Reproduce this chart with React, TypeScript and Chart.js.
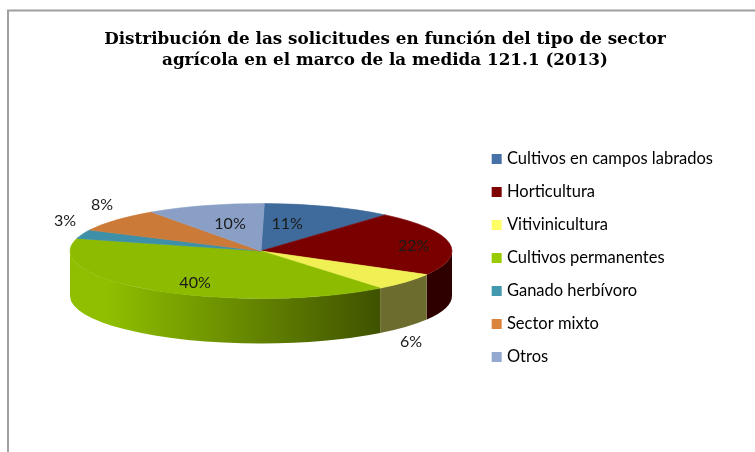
import React, { useEffect, useRef } from "react";
import { Chart, registerables } from "chart.js";

Chart.register(...registerables);

const categories = [
  "Cultivos en campos labrados",
  "Horticultura",
  "Vitivinicultura",
  "Cultivos permanentes",
  "Ganado herbívoro",
  "Sector mixto",
  "Otros",
];
const shares = [11, 22, 6, 40, 3, 8, 10];
const pieColors = ["#3F6A9C", "#7A0000", "#F0F055", "#8DBB00", "#3E8FA8", "#CB7A38", "#8A9FC6"];
const legendColors = ["#4672A8", "#7F0000", "#FFFF66", "#99CC00", "#4198AF", "#DB843D", "#93A9CF"];
const wallFrom = ["#2A4670", "#2E0000", "#6C6C2E", "#8FBF00", "#2A6070", "#8A5020", "#607090"];
const wallTo = ["#2A4670", "#2E0000", "#6C6C2E", "#3F5200", "#2A6070", "#8A5020", "#607090"];
const titleLines = [
  "Distribución de las solicitudes en función del tipo de sector",
  "agrícola en el marco de la medida 121.1 (2013)",
];
// Radial placement of each percentage label, as fractions of the ellipse radii.
const labelFx = [0.45, 0.83, 1.04, 0.615, 1.074, 1.06, 0.474];
const labelFy = [0.6, 0.56, 3.0, 0.8, 1.86, 1.52, 0.6];

const ROTATION_DEG = 1;
const TILT_CX = 261;
const LABEL_CX = 258;
const TILT_RY = 47.5;
const TILT_CY = 251;
const DEPTH = 45;

const tiltPlugin = {
  id: "tilt",
  beforeDraw(chart: any) {
    const { ctx, width, height } = chart;
    ctx.save();
    ctx.strokeStyle = "#a0a0a0";
    ctx.lineWidth = 2;
    ctx.beginPath();
    ctx.moveTo(8, height);
    ctx.lineTo(8, 10.5);
    ctx.lineTo(width, 10.5);
    ctx.stroke();
    ctx.restore();
  },
  beforeDatasetsDraw(chart: any) {
    const { ctx } = chart;
    const arcs = chart.getDatasetMeta(0).data;
    const first = arcs[0];
    const cx = TILT_CX;
    const rx = first.outerRadius;
    arcs.forEach((arc: any, i: number) => {
      let a1 = arc.startAngle;
      let a2 = arc.endAngle;
      const tau = Math.PI * 2;
      while (a2 > tau) {
        a1 -= tau;
        a2 -= tau;
      }
      const s = Math.max(a1, 0);
      const e = Math.min(a2, Math.PI);
      if (e <= s) return;
      const xa = cx + rx * Math.cos(e);
      const xb = cx + rx * Math.cos(s);
      const grad = ctx.createLinearGradient(xa, 0, xb, 0);
      grad.addColorStop(0, wallFrom[i]);
      grad.addColorStop(0.12, wallFrom[i]);
      grad.addColorStop(1, wallTo[i]);
      ctx.save();
      ctx.fillStyle = grad;
      ctx.beginPath();
      ctx.ellipse(cx, TILT_CY, rx, TILT_RY, 0, s, e, false);
      ctx.ellipse(cx, TILT_CY + DEPTH, rx, TILT_RY, 0, e, s, true);
      ctx.closePath();
      ctx.fill();
      ctx.restore();
    });
    ctx.save();
    ctx.translate(cx, TILT_CY);
    ctx.scale(1, TILT_RY / rx);
    ctx.translate(-first.x, -first.y);
  },
  afterDatasetsDraw(chart: any) {
    const { ctx } = chart;
    ctx.restore();
    const arcs = chart.getDatasetMeta(0).data;
    ctx.save();
    ctx.font = "16px Lato";
    ctx.fillStyle = "#1a1a1a";
    ctx.textAlign = "center";
    ctx.textBaseline = "middle";
    arcs.forEach((arc: any, i: number) => {
      const mid = (arc.startAngle + arc.endAngle) / 2 - (ROTATION_DEG * Math.PI) / 180;
      const x = LABEL_CX + arc.outerRadius * labelFx[i] * Math.cos(mid);
      const y = TILT_CY + TILT_RY * labelFy[i] * Math.sin(mid);
      ctx.fillText(`${shares[i]}%`, x, y);
    });
    ctx.restore();
  },
};

export default function App() {
  const ref = useRef<HTMLCanvasElement | null>(null);
  useEffect(() => {
    document.body.style.margin = "0";
    const chart = new Chart(ref.current as HTMLCanvasElement, {
      type: "pie",
      data: {
        labels: categories,
        datasets: [
          {
            data: shares,
            backgroundColor: pieColors,
            borderColor: pieColors,
            borderWidth: 1,
            radius: 191,
            rotation: ROTATION_DEG,
            clip: false,
          } as any,
        ],
      },
      options: {
        responsive: false,
        animation: false,
        layout: { padding: { left: 47, right: 32, top: 29, bottom: 7 } },
        plugins: {
          title: {
            display: true,
            text: titleLines,
            color: "#000000",
            font: { family: "'DejaVu Serif'", size: 16.8, weight: "bold", lineHeight: 1.25 },
            padding: { top: 0, bottom: 0 },
          },
          tooltip: { enabled: false },
          legend: {
            position: "right",
            fullSize: false,
            labels: {
              color: "#1a1a1a",
              font: { family: "Lato", size: 16.5 },
              boxWidth: 4,
              boxHeight: 4,
              padding: 16.5,
              generateLabels: () =>
                categories.map((text, i) => ({
                  text,
                  fillStyle: legendColors[i],
                  strokeStyle: legendColors[i],
                  lineWidth: 6,
                  index: i,
                })),
            },
          },
        },
      },
      plugins: [tiltPlugin],
    } as any);
    return () => chart.destroy();
  }, []);
  return <canvas ref={ref} width={755} height={452} style={{ display: "block" }} />;
}
